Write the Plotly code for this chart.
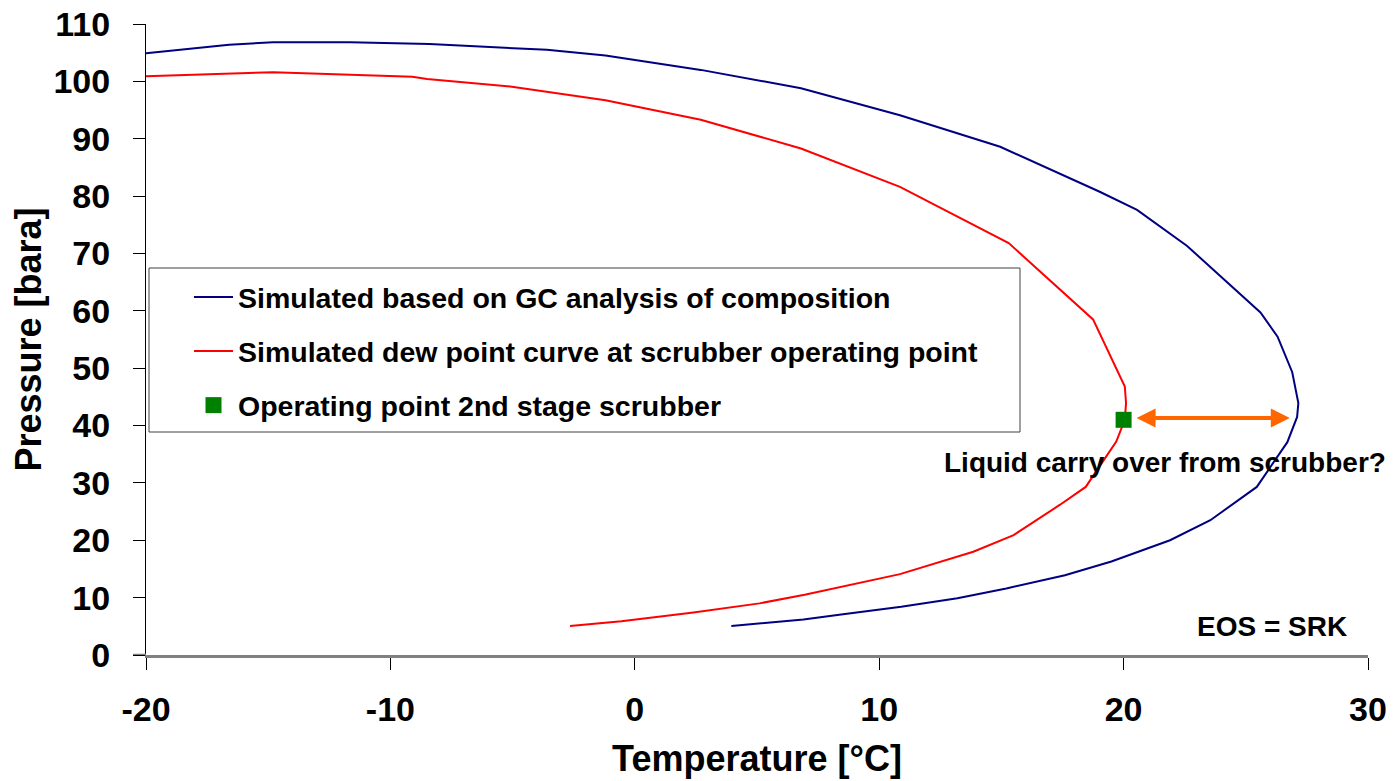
import plotly.graph_objects as go

# Phase envelope from GC composition (temperature °C, pressure bara)
gc_temp = [-20.0, -16.6, -14.8, -11.65, -8.4, -5.1, -3.6, -1.2, 2.7, 6.8, 10.85,
           14.95, 19.0, 20.55, 22.6, 25.6, 26.3, 26.9, 27.15, 27.1, 26.7, 25.45,
           23.55, 21.9, 19.5, 17.6, 15.2, 13.2, 10.9, 8.6, 6.9, 3.95]
gc_pres = [104.9, 106.4, 106.8, 106.8, 106.5, 105.9, 105.5, 104.5, 102.0, 98.8, 94.1,
           88.6, 80.8, 77.6, 71.3, 59.7, 55.5, 49.3, 43.9, 41.5, 37.1, 29.3,
           23.5, 20.0, 16.3, 13.9, 11.6, 9.9, 8.4, 7.15, 6.2, 5.05]

# Dew point curve at the scrubber operating point
dew_temp = [-20.0, -15.4, -14.8, -9.1, -8.5, -5.1, -1.2, 2.7, 6.8, 10.85, 15.3,
            18.75, 20.05, 20.1, 20.05, 19.7, 18.45, 17.4, 15.5, 13.85, 10.85,
            6.95, 5.1, 2.4, -0.55, -2.65]
dew_pres = [100.9, 101.6, 101.6, 100.8, 100.4, 99.1, 96.7, 93.3, 88.3, 81.6, 71.8,
            58.5, 46.8, 43.9, 41.0, 37.2, 29.3, 26.2, 20.9, 18.0, 14.1,
            10.5, 9.0, 7.4, 5.9, 5.05]

# 2nd stage scrubber operating point
op_temp = [20.0]
op_pres = [41.0]

# Horizontal gap between operating point and GC envelope
gap_start_temp = 20.47
gap_end_temp = 26.8
gap_pres = 41.3

x_ticks = [-20, -10, 0, 10, 20, 30]
y_ticks = [0, 10, 20, 30, 40, 50, 60, 70, 80, 90, 100, 110]

FONT = "Liberation Sans, Arial, sans-serif"

fig = go.Figure()
fig.add_trace(go.Scatter(
    x=gc_temp, y=gc_pres, mode="lines",
    name="Simulated based on GC analysis of composition",
    line=dict(color="#000080", width=2), legendgroup="a"))
fig.add_trace(go.Scatter(
    x=dew_temp, y=dew_pres, mode="lines",
    name="Simulated dew point curve at scrubber operating point",
    line=dict(color="#FF0000", width=2), legendgroup="b"))
fig.add_trace(go.Scatter(
    x=op_temp, y=op_pres, mode="markers",
    name="Operating point 2nd stage scrubber",
    marker=dict(color="#008000", size=16, symbol="square"), legendgroup="c"))

# Double-headed arrow
fig.add_annotation(
    x=gap_end_temp, y=gap_pres, ax=gap_start_temp, ay=gap_pres,
    xref="x", yref="y", axref="x", ayref="y", text="",
    showarrow=True, arrowhead=2, arrowside="end+start",
    arrowsize=0.95, arrowwidth=4, arrowcolor="#FF6600",
    standoff=0, startstandoff=0)

fig.add_annotation(
    x=21.69, y=33.6, xref="x", yref="y", showarrow=False,
    text="Liquid carry over from scrubber?",
    font=dict(family=FONT, size=28, color="black", weight="bold"))
fig.add_annotation(
    x=26.07, y=4.9, xref="x", yref="y", showarrow=False,
    text="EOS = SRK",
    font=dict(family=FONT, size=28, color="black", weight="bold"))

# Legend frame
fig.add_shape(type="rect", xref="paper", yref="paper",
              x0=(149 - 146) / 1222, x1=(1020 - 146) / 1222,
              y0=(655 - 432) / 631, y1=(655 - 268) / 631,
              line=dict(color="#404040", width=1), fillcolor="white", layer="below")
# bottom axis line extension under the y ticks
fig.add_shape(type="line", xref="paper", yref="y",
              x0=-13 / 1222, x1=0, y0=0, y1=0,
              line=dict(color="#808080", width=2.5))

fig.update_layout(
    width=1393, height=781,
    margin=dict(l=146, r=25, t=24, b=126),
    paper_bgcolor="white", plot_bgcolor="white",
    font=dict(family=FONT, color="black", weight="bold"),
    showlegend=True,
    legend=dict(
        x=(149 - 146) / 1222, y=(655 - 272) / 631, xanchor="left", yanchor="top",
        bgcolor="rgba(0,0,0,0)", borderwidth=0,
        font=dict(family=FONT, size=28.5, color="black", weight="bold"),
        traceorder="grouped", tracegroupgap=14, indentation=40, itemwidth=39),
)

fig.update_xaxes(
    range=[-20, 30], tickvals=x_ticks, ticktext=[str(v) for v in x_ticks],
    showgrid=False, zeroline=False,
    showline=True, linecolor="#808080", linewidth=2.5,
    ticks="outside", ticklen=12, tickcolor="black", tickwidth=1,
    tickfont=dict(family=FONT, size=34, weight="bold"),
    ticklabelstandoff=10,
    title=dict(text="Temperature [°C]", standoff=20,
               font=dict(family=FONT, size=36, weight="bold")),
    automargin=False)

fig.update_yaxes(
    range=[0, 110], tickvals=y_ticks, ticktext=[str(v) for v in y_ticks],
    showgrid=False, zeroline=False,
    showline=True, linecolor="black", linewidth=1,
    ticks="outside", ticklen=12, tickcolor="black", tickwidth=1,
    tickfont=dict(family=FONT, size=34, weight="bold"),
    ticklabelstandoff=16,
    title=dict(text="Pressure [bara]", standoff=0,
               font=dict(family=FONT, size=36, weight="bold")),
    automargin=False)

fig.write_html("out.html")
